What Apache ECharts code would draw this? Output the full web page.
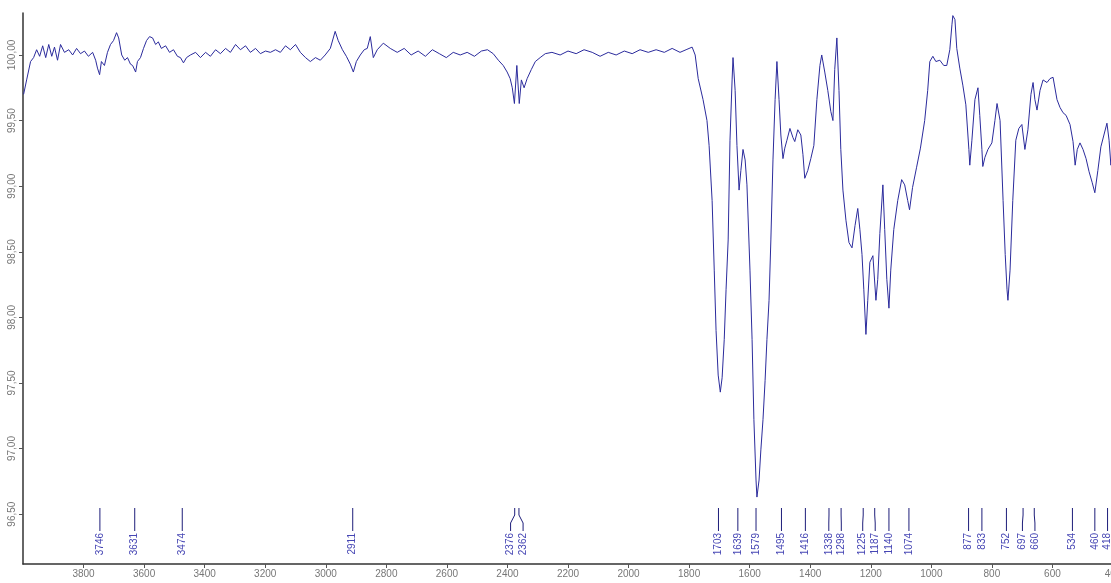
<!DOCTYPE html>
<html>
<head>
<meta charset="utf-8">
<title>IR spectrum</title>
<script src="https://cdn.jsdelivr.net/npm/echarts@6/dist/echarts.min.js"></script>
<style>
  html, body { margin: 0; padding: 0; background: #fff; }
  #chart { width: 1111px; height: 583px; }
</style>
</head>
<body>
<div id="chart"></div>
<script>
// wavenumber (cm-1)
const wavenumbers = [
  3998, 3988, 3975, 3965, 3955, 3945, 3935, 3925, 3915, 3905, 3896, 3886, 3876, 3863, 3849, 3836,
  3823, 3810, 3797, 3784, 3770, 3760, 3754, 3747, 3741, 3731, 3721, 3711, 3701, 3691, 3684, 3674,
  3664, 3655, 3645, 3638, 3628, 3622, 3612, 3602, 3592, 3582, 3572, 3562, 3553, 3543, 3529, 3516,
  3503, 3490, 3480, 3470, 3460, 3447, 3430, 3414, 3397, 3381, 3364, 3348, 3331, 3315, 3298, 3282,
  3265, 3249, 3232, 3216, 3199, 3183, 3166, 3150, 3133, 3117, 3100, 3084, 3067, 3051, 3034, 3018,
  3002, 2985, 2969, 2959, 2945, 2932, 2919, 2909, 2899, 2886, 2873, 2863, 2853, 2843, 2830, 2810,
  2787, 2764, 2741, 2718, 2695, 2671, 2648, 2625, 2602, 2579, 2556, 2533, 2509, 2486, 2466, 2447,
  2430, 2414, 2401, 2391, 2384, 2377, 2369, 2361, 2354, 2345, 2335, 2321, 2308, 2292, 2275, 2253,
  2226, 2200, 2173, 2147, 2120, 2094, 2067, 2041, 2014, 1988, 1962, 1935, 1909, 1882, 1856, 1830,
  1810, 1790, 1780, 1770, 1754, 1741, 1734, 1724, 1717, 1711, 1704, 1697, 1691, 1684, 1678, 1671,
  1665, 1658, 1655, 1648, 1642, 1635, 1629, 1622, 1615, 1609, 1599, 1592, 1586, 1579, 1576, 1569,
  1563, 1556, 1549, 1543, 1536, 1530, 1523, 1516, 1510, 1503, 1497, 1490, 1484, 1477, 1467, 1457,
  1451, 1441, 1431, 1424, 1418, 1408, 1398, 1388, 1378, 1368, 1362, 1352, 1342, 1332, 1325, 1319,
  1312, 1305, 1299, 1292, 1282, 1272, 1262, 1252, 1243, 1236, 1229, 1223, 1216, 1210, 1203, 1193,
  1183, 1177, 1170, 1160, 1154, 1147, 1140, 1134, 1124, 1111, 1098, 1088, 1078, 1072, 1062, 1049,
  1036, 1022, 1012, 1005, 995, 985, 972, 959, 949, 939, 932, 929, 922, 916, 906, 896,
  886, 876, 873, 866, 856, 846, 840, 833, 830, 823, 813, 800, 790, 783, 773, 763,
  756, 750, 747, 740, 731, 721, 711, 701, 691, 681, 671, 664, 658, 651, 641, 631,
  618, 608, 598, 585, 575, 565, 555, 542, 532, 525, 518, 509, 499, 489, 479, 469,
  460, 450, 440, 430, 420, 413, 407, 400
];
// transmittance (%)
const transmittance = [
  99.70, 99.81, 99.95, 99.98, 100.04, 99.99, 100.07, 99.98, 100.08, 99.99, 100.06, 99.96, 100.08, 100.02, 100.04, 100.00,
  100.05, 100.01, 100.03, 99.99, 100.02, 99.96, 99.90, 99.85, 99.95, 99.92, 100.02, 100.08, 100.11, 100.17, 100.13, 100.00,
  99.96, 99.98, 99.93, 99.92, 99.87, 99.95, 99.98, 100.05, 100.11, 100.14, 100.13, 100.08, 100.10, 100.05, 100.07, 100.02,
  100.04, 99.99, 99.98, 99.94, 99.98, 100.00, 100.02, 99.98, 100.02, 99.99, 100.04, 100.01, 100.05, 100.02, 100.08, 100.04,
  100.07, 100.02, 100.05, 100.01, 100.03, 100.02, 100.04, 100.02, 100.07, 100.04, 100.08, 100.02, 99.98, 99.95, 99.98, 99.96,
  100.00, 100.05, 100.18, 100.11, 100.04, 99.99, 99.93, 99.87, 99.95, 100.00, 100.04, 100.05, 100.14, 99.98, 100.04, 100.09,
  100.05, 100.02, 100.05, 100.00, 100.03, 99.99, 100.04, 100.01, 99.98, 100.02, 100.00, 100.02, 99.99, 100.03, 100.04, 100.01,
  99.96, 99.92, 99.87, 99.82, 99.75, 99.63, 99.92, 99.63, 99.81, 99.75, 99.82, 99.89, 99.95, 99.98, 100.01, 100.02,
  100.00, 100.03, 100.01, 100.04, 100.02, 99.99, 100.02, 100.00, 100.03, 100.01, 100.04, 100.02, 100.04, 100.02, 100.05, 100.02,
  100.04, 100.06, 100.00, 99.82, 99.66, 99.50, 99.31, 98.89, 98.36, 97.90, 97.56, 97.43, 97.54, 97.83, 98.21, 98.59,
  99.35, 99.81, 99.98, 99.73, 99.31, 98.97, 99.12, 99.28, 99.20, 99.01, 98.36, 97.83, 97.22, 96.76, 96.63, 96.76,
  96.99, 97.22, 97.52, 97.83, 98.13, 98.59, 99.20, 99.66, 99.95, 99.66, 99.39, 99.21, 99.29, 99.35, 99.44, 99.37,
  99.34, 99.43, 99.39, 99.24, 99.06, 99.12, 99.21, 99.31, 99.66, 99.92, 100.00, 99.87, 99.73, 99.57, 99.50, 99.89,
  100.13, 99.73, 99.28, 98.97, 98.74, 98.57, 98.53, 98.70, 98.83, 98.67, 98.48, 98.21, 97.87, 98.13, 98.42, 98.47,
  98.13, 98.29, 98.64, 99.01, 98.67, 98.29, 98.07, 98.36, 98.67, 98.89, 99.05, 99.01, 98.89, 98.82, 98.99, 99.14,
  99.29, 99.50, 99.73, 99.95, 99.99, 99.95, 99.96, 99.92, 99.92, 100.04, 100.23, 100.30, 100.27, 100.05, 99.90, 99.77,
  99.62, 99.28, 99.16, 99.35, 99.66, 99.75, 99.54, 99.28, 99.15, 99.22, 99.28, 99.33, 99.50, 99.63, 99.50, 98.89,
  98.48, 98.21, 98.13, 98.36, 98.89, 99.35, 99.44, 99.47, 99.28, 99.43, 99.70, 99.79, 99.66, 99.58, 99.73, 99.81,
  99.79, 99.82, 99.83, 99.66, 99.60, 99.56, 99.54, 99.47, 99.34, 99.16, 99.28, 99.33, 99.28, 99.21, 99.11, 99.03,
  98.95, 99.12, 99.30, 99.39, 99.48, 99.35, 99.16, 99.28
];
// labelled peaks (cm-1)
const peakPositions = [
  3746, 3631, 3474, 2911, 2376, 2362, 1703, 1639, 1579, 1495, 1416, 1338, 1298,
  1225, 1187, 1140, 1074, 877, 833, 752, 697, 660, 534, 460, 418
];
const xTicks = [3800, 3600, 3400, 3200, 3000, 2800, 2600, 2400, 2200, 2000, 1800, 1600, 1400, 1200, 1000, 800, 600, 400];
const yTicks = [96.5, 97.0, 97.5, 98.0, 98.5, 99.0, 99.5, 100.0];

const chart = echarts.init(document.getElementById('chart'));

// spread label positions so that neighbouring texts do not overlap
function spreadLabels(xs, gap) {
  let groups = xs.map((x, i) => ({ members: [i], center: x }));
  let merged = true;
  while (merged) {
    merged = false;
    for (let i = 0; i < groups.length - 1; i++) {
      const a = groups[i];
      const b = groups[i + 1];
      const aEnd = a.center + (a.members.length - 1) * gap / 2;
      const bStart = b.center - (b.members.length - 1) * gap / 2;
      if (bStart - aEnd < gap) {
        const members = a.members.concat(b.members);
        const center = members.reduce((s, m) => s + xs[m], 0) / members.length;
        groups.splice(i, 2, { members: members, center: center });
        merged = true;
        break;
      }
    }
  }
  const out = [];
  groups.forEach((g) => {
    g.members.forEach((m, k) => {
      out[m] = g.center + (k - (g.members.length - 1) / 2) * gap;
    });
  });
  return out;
}

const lineColor = '#2b2b9c';

chart.setOption({
  animation: false,
  backgroundColor: '#ffffff',
  grid: { left: 23, top: 13, width: 1090, height: 551, outerBoundsMode: 'none' },
  xAxis: {
    type: 'value',
    min: 400,
    max: 4000,
    inverse: true,
    axisLine: { lineStyle: { color: '#333', width: 1.5 } },
    axisTick: { customValues: xTicks, length: 4, lineStyle: { color: '#555' } },
    axisLabel: {
      customValues: xTicks,
      color: '#777',
      fontSize: 10,
      margin: 5,
      fontFamily: 'Liberation Sans, Arial, sans-serif',
      formatter: (v) => String(v)
    },
    splitLine: { show: false }
  },
  yAxis: {
    type: 'value',
    min: 96.12,
    max: 100.32,
    axisLine: { show: true, lineStyle: { color: '#333', width: 1.5 } },
    axisTick: { show: true, customValues: yTicks, length: 4, lineStyle: { color: '#555' } },
    axisLabel: {
      customValues: yTicks,
      rotate: 90,
      color: '#777',
      fontSize: 10,
      margin: 6,
      fontFamily: 'Liberation Sans, Arial, sans-serif',
      formatter: (v) => v.toFixed(2).replace('.', ',')
    },
    splitLine: { show: false }
  },
  series: [
    {
      name: 'spectrum',
      type: 'line',
      showSymbol: false,
      data: wavenumbers.map((w, i) => [w, transmittance[i]]),
      lineStyle: { color: lineColor, width: 1 }
    },
    {
      name: 'peaks',
      type: 'custom',
      clip: false,
      data: peakPositions.map((p) => [p, 100]),
      renderItem: function (params, api) {
        const ctx = params.context;
        if (!ctx.labelX) {
          const xs = peakPositions.map((p) => api.coord([p, 100])[0]);
          ctx.labelX = spreadLabels(xs, 12.5);
        }
        const px = api.coord([api.value(0), 100])[0];
        const lx = ctx.labelX[params.dataIndex];
        const bottom = params.coordSys.y + params.coordSys.height;
        const top = bottom - 56;
        return {
          type: 'group',
          children: [
            {
              type: 'polyline',
              shape: { points: [[px, top], [px, top + 7], [lx, top + 15], [lx, top + 23]] },
              style: { stroke: '#1e1e7a', lineWidth: 1, fill: null }
            },
            {
              type: 'text',
              x: lx,
              y: top + 25,
              rotation: Math.PI / 2,
              style: {
                text: String(peakPositions[params.dataIndex]),
                align: 'right',
                verticalAlign: 'middle',
                fill: '#4646b4',
                font: '10px "Liberation Sans", Arial, sans-serif'
              }
            }
          ]
        };
      }
    }
  ]
});
</script>
</body>
</html>
